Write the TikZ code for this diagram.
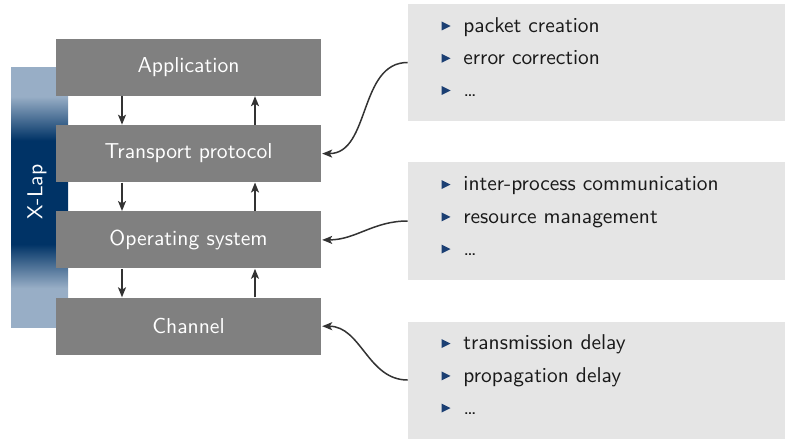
\documentclass[tikz,border=0pt]{standalone}
\usetikzlibrary{arrows.meta}
\definecolor{layergray}{HTML}{808080}
\definecolor{boxgray}{HTML}{E5E5E5}
\definecolor{xlight}{HTML}{98AEC6}
\definecolor{xdark}{HTML}{003366}
\definecolor{bulletblue}{HTML}{1B3F73}
\definecolor{arrowgray}{HTML}{333333}
\definecolor{itemtext}{HTML}{1A1A1A}
\pgfdeclareverticalshading{xlapshade}{100bp}{color(0bp)=(xlight); color(25bp)=(xlight); color(32.5bp)=(xlight); color(41bp)=(xdark); color(61bp)=(xdark); color(69.5bp)=(xlight); color(75bp)=(xlight); color(100bp)=(xlight)}
\tikzset{
  layer/.style={fill=layergray, text=white, minimum width=132.5pt, minimum height=28.5pt, inner sep=0pt, font=\sffamily\fontsize{10.8}{12}\selectfont},
  infobox/.style={fill=boxgray, minimum width=188.5pt, minimum height=58.5pt, inner sep=0pt},
  itemnode/.style={anchor=base west, inner sep=0pt, text=itemtext, font=\sffamily\fontsize{10.7}{12}\selectfont},
  arr/.style={draw=arrowgray, line width=0.75pt, -{Stealth[length=5pt,width=4pt,inset=1.2pt]}},
  conn/.style={arr, shorten >=0.4pt}
}
\begin{document}
\begin{tikzpicture}[x=0.5pt,y=-0.5pt]
\useasboundingbox (0,0) rectangle (785,438);
% X-Lap bar
\node[shading=xlapshade, minimum width=28.5pt, minimum height=129.5pt, inner sep=0pt] (xlap) at (39.5,197.5) {};
\node[rotate=90, text=white, inner sep=0pt, font=\sffamily\fontsize{10.8}{12}\selectfont] (xlaplabel) at (37,192) {X-Lap};
% layers
\node[layer] (app) at (188.5,67.3) {Application};
\node[layer] (tp)  at (188.5,153.6) {Transport protocol};
\node[layer] (os)  at (188.5,239.9) {Operating system};
\node[layer] (ch)  at (188.5,326.2) {Channel};
% vertical arrows
\coordinate (dn) at (122,0);
\coordinate (up) at (255,0);
\draw[arr] (app.south -| dn) -- (tp.north -| dn);
\draw[arr] (tp.north -| up) -- (app.south -| up);
\draw[arr] (tp.south -| dn) -- (os.north -| dn);
\draw[arr] (os.north -| up) -- (tp.south -| up);
\draw[arr] (os.south -| dn) -- (ch.north -| dn);
\draw[arr] (ch.north -| up) -- (os.south -| up);
% info boxes
\node[infobox] (b1) at (596.5,62.5) {};
\node[infobox] (b2) at (596.5,221) {};
\node[infobox] (b3) at (596.5,380) {};
\foreach \yb/\txt/\nm in {32.3/packet creation/i11, 64.6/error correction/i12, 96.8/\dots/i13,
                          190.9/inter-process communication/i21, 223.2/resource management/i22, 255.4/\dots/i23,
                          349.9/transmission delay/i31, 382.2/propagation delay/i32, 414.4/\dots/i33}{
  \fill[bulletblue] (441.5,\yb-10.8) -- (450.5,\yb-6.3) -- (441.5,\yb-1.8) -- cycle;
  \node[itemnode] (\nm) at (463,\yb) {\txt};
}
% connectors
\draw[conn] (b1.west) to[out=180,in=0] (tp.east);
\draw[conn] (b2.west) to[out=180,in=0] (os.east);
\draw[conn] (b3.west) to[out=180,in=0] (ch.east);
\end{tikzpicture}
\end{document}
